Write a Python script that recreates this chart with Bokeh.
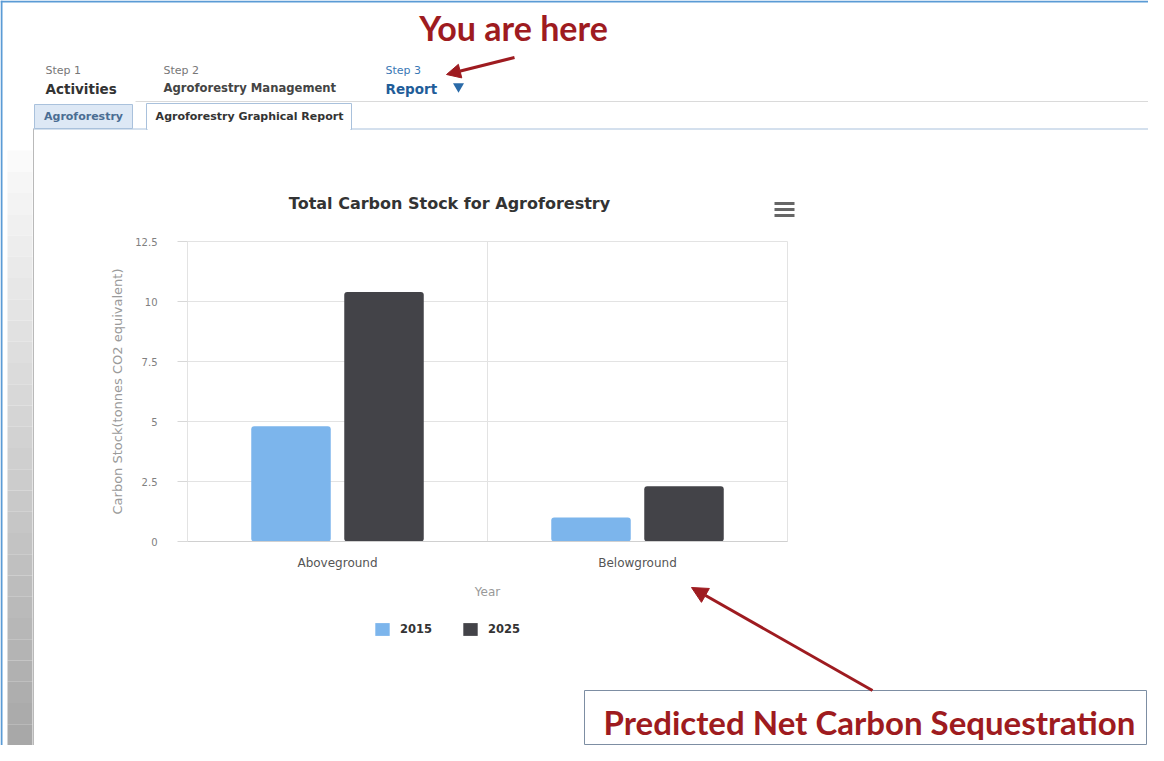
import numpy as np
from bokeh.plotting import figure
from bokeh.models import (Range1d, LinearAxis, FixedTicker, NumeralTickFormatter,
                          Legend, LegendItem, Arrow, NormalHead, ColumnDataSource)
from bokeh.core.properties import value
from bokeh.embed import file_html
from bokeh.resources import INLINE

# ---------------- data ----------------
categories = ["Aboveground", "Belowground"]
years = ["2015", "2025"]
values_2015 = [4.8, 1.0]
values_2025 = [10.4, 2.3]
y_ticks = [0, 2.5, 5, 7.5, 10, 12.5]
title_text = "Total Carbon Stock for Agroforestry"
y_label = "Carbon Stock(tonnes CO2 equivalent)"
x_label = "Year"

# ---------------- layout (reference pixel space) ----------------
W, H = 1148, 745
X0 = 337.0      # centre of first category (px)
CW = 300.0      # category width (px)
Y0 = 541.0      # value 0 baseline (px)
K = 24.0        # px per value unit
BAR_OFF = 0.155
BAR_W = 0.265

C15 = "#7cb5ec"
C25 = "#434348"
RED = "#9e1b20"
UI = value("DejaVu Sans")
CH = value("DejaVu Sans")
CHS = "DejaVu Sans"

p = figure(width=W, height=H, output_backend="svg", toolbar_location=None,
           x_range=Range1d(0, W), y_range=Range1d(H, 0),
           x_axis_type=None, y_axis_type=None, title=None,
           min_border=0, min_border_left=0, min_border_right=0,
           min_border_top=0, min_border_bottom=0)
p.outline_line_color = None
p.background_fill_color = "white"
p.border_fill_color = "white"

p.extra_x_ranges = {"cat": Range1d((0 - X0) / CW, (W - X0) / CW)}
p.extra_y_ranges = {"val": Range1d((Y0 - H) / K, (Y0 - 0) / K)}

# ---------------- page decoration ----------------
# outer blue frame (top / left)
p.segment(x0=[0, 1], x1=[W, 1], y0=[1, 0], y1=[1, H], line_color="#5b9bd5", line_width=2)
# left sidebar gradient
n = 28
ys = np.linspace(150, H, n + 1)
shades = np.linspace(250, 168, n).astype(int)
p.quad(left=7, right=32, top=ys[:-1], bottom=ys[1:],
       fill_color=["#%02x%02x%02x" % (s, s, s) for s in shades], line_color=None)
p.segment(x0=33, x1=33, y0=128, y1=H, line_color="#b9b9b9", line_width=1)
# lines
p.segment(x0=[135, 33], x1=[W, W], y0=[101, 128.5], y1=[101, 128.5],
          line_color=["#dadada", "#a9c1dc"], line_width=1)
# tabs
p.quad(left=[34], right=[132], top=[104], bottom=[128], fill_color="#dde8f5",
       line_color="#a9c1dc")
p.quad(left=[146], right=[351], top=[103], bottom=[129], fill_color="white",
       line_color="#a9c1dc")
p.segment(x0=147, x1=350, y0=128.5, y1=128.5, line_color="white", line_width=2)
p.text(x=[83, 249], y=[116, 116], text=["Agroforestry", "Agroforestry Graphical Report"],
       text_font=UI, text_font_style="bold", text_font_size="11px",
       text_color=["#4a6d93", "#333333"], text_align="center", text_baseline="middle")
# steps
p.text(x=[45, 163, 385], y=[70, 70, 70], text=["Step 1", "Step 2", "Step 3"],
       text_font=UI, text_font_size="11px",
       text_color=["#777777", "#777777", "#3a78b5"], text_baseline="middle")
p.text(x=[45, 385], y=[88, 88], text=["Activities", "Report"],
       text_font=UI, text_font_style="bold", text_font_size="13.5px",
       text_color=["#333333", "#1f5d99"], text_baseline="middle")
p.text(x=[163], y=[87], text=["Agroforestry Management"],
       text_font=UI, text_font_style="bold", text_font_size="11.6px",
       text_color="#444444", text_baseline="middle")
p.scatter(x=[458], y=[86], marker="triangle", size=11, angle=np.pi,
          fill_color="#2a6aa8", line_color=None)
# annotations
p.text(x=[513], y=[27], text=["You are here"], text_font=value("Lato"),
       text_font_style="bold", text_font_size="34px", text_color=RED,
       text_align="center", text_baseline="middle")
p.add_layout(Arrow(end=NormalHead(size=14, fill_color=RED, line_color=RED),
                   x_start=514, y_start=57, x_end=446, y_end=74,
                   line_color=RED, line_width=3))
p.quad(left=[584], right=[1146], top=[690], bottom=[744], fill_color="white",
       line_color="#7d8ea3", line_width=1)
p.text(x=[869], y=[721], text=["Predicted Net Carbon Sequestration"], text_font=value("Lato"),
       text_font_style="bold", text_font_size="33px", text_color=RED,
       text_align="center", text_baseline="middle")
p.add_layout(Arrow(end=NormalHead(size=16, fill_color=RED, line_color=RED),
                   x_start=872, y_start=690, x_end=691, y_end=587,
                   line_color=RED, line_width=3))
# hamburger
p.segment(x0=[774] * 3, x1=[794] * 3, y0=[203, 209, 215], y1=[203, 209, 215],
          line_color="#666666", line_width=3)
# title
p.text(x=[449], y=[203], text=[title_text], text_font=CH, text_font_style="bold",
       text_font_size="16px", text_color="#333333", text_align="center",
       text_baseline="middle")

# ---------------- chart ----------------
ncat = len(categories)
idx = np.arange(ncat)
# grid lines
p.segment(x0=-0.5, x1=ncat - 0.5, y0=y_ticks, y1=y_ticks, line_color="#e3e3e3",
          line_width=1, x_range_name="cat", y_range_name="val")
bounds = np.arange(ncat + 1) - 0.5
p.segment(x0=bounds, x1=bounds, y0=y_ticks[0], y1=y_ticks[-1], line_color="#e3e3e3",
          line_width=1, x_range_name="cat", y_range_name="val")

src = ColumnDataSource(dict(x15=idx - BAR_OFF, x25=idx + BAR_OFF,
                            v15=values_2015, v25=values_2025))
r15 = p.vbar(x="x15", top="v15", bottom=0, width=BAR_W, source=src,
             fill_color=C15, line_color=None, border_radius=3,
             x_range_name="cat", y_range_name="val")
r25 = p.vbar(x="x25", top="v25", bottom=0, width=BAR_W, source=src,
             fill_color=C25, line_color=None, border_radius=3,
             x_range_name="cat", y_range_name="val")

yaxis = LinearAxis(y_range_name="val", fixed_location=X0 - CW / 2,
                   ticker=FixedTicker(ticks=y_ticks),
                   formatter=NumeralTickFormatter(format="0.[0]"),
                   bounds=(y_ticks[0], y_ticks[-1]), axis_label=y_label)
yaxis.axis_line_color = None
yaxis.major_tick_line_color = "#d8d8d8"
yaxis.major_tick_out = 10
yaxis.major_tick_in = 0
yaxis.minor_tick_line_color = None
yaxis.major_label_standoff = 20
yaxis.major_label_text_font = CHS
yaxis.major_label_text_font_size = "10px"
yaxis.major_label_text_color = "#808080"
yaxis.axis_label_text_font = CHS
yaxis.axis_label_text_font_size = "13px"
yaxis.axis_label_text_font_style = "normal"
yaxis.axis_label_text_color = "#9a9a9a"
yaxis.axis_label_standoff = 7
p.add_layout(yaxis, "left")

xaxis = LinearAxis(x_range_name="cat", fixed_location=Y0,
                   ticker=FixedTicker(ticks=[int(i) for i in idx]),
                   major_label_overrides={int(i): c for i, c in enumerate(categories)},
                   bounds=(-0.5, ncat - 0.5), axis_label=x_label)
xaxis.axis_line_color = "#d0d0d0"
xaxis.major_tick_line_color = None
xaxis.major_tick_out = 0
xaxis.major_tick_in = 0
xaxis.minor_tick_line_color = None
xaxis.major_label_standoff = 14
xaxis.major_label_text_font = CHS
xaxis.major_label_text_font_size = "12px"
xaxis.major_label_text_color = "#555555"
xaxis.axis_label_text_font = CHS
xaxis.axis_label_text_font_size = "12px"
xaxis.axis_label_text_font_style = "normal"
xaxis.axis_label_text_color = "#999999"
xaxis.axis_label_standoff = 12
p.add_layout(xaxis, "below")

legend = Legend(items=[LegendItem(label=years[0], renderers=[r15]),
                       LegendItem(label=years[1], renderers=[r25])],
                orientation="horizontal", location=(373, H - 637))
legend.glyph_width = 18
legend.glyph_height = 16
legend.label_height = 16
legend.label_standoff = 9
legend.spacing = 29
legend.padding = 0
legend.margin = 0
legend.border_line_color = None
legend.background_fill_alpha = 0
legend.label_text_font = CHS
legend.label_text_font_style = "bold"
legend.label_text_font_size = "11.5px"
legend.label_text_color = "#333333"
p.add_layout(legend)

open("out.html", "w").write(file_html(p, INLINE))
